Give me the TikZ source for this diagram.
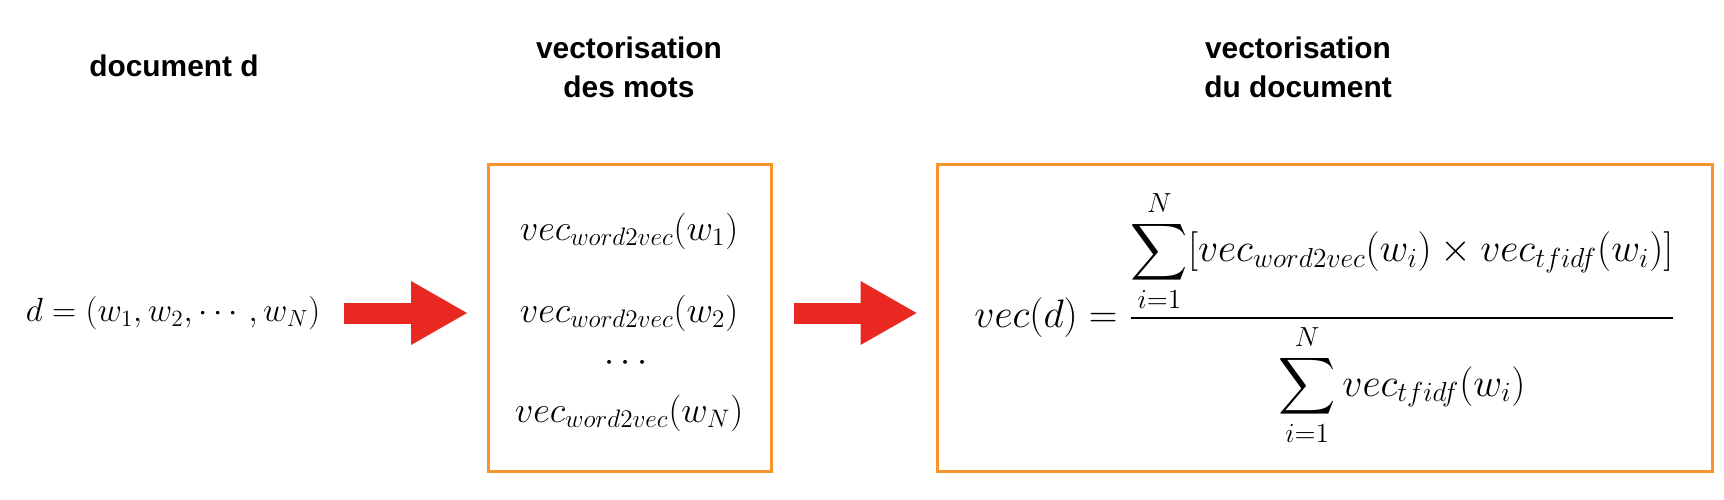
\documentclass[tikz,border=0pt]{standalone}
\usepackage{amsmath}
\usepackage{graphicx}
\usepackage{fontspec}
\newfontfamily\labelfont{Liberation Sans}
\usetikzlibrary{arrows.meta, positioning}
\definecolor{boxorange}{RGB}{247,148,44}
\definecolor{arrowred}{RGB}{233,41,33}

\begin{document}
\begin{tikzpicture}[x=0.02cm, y=-0.02cm,
  title/.style={font=\labelfont\bfseries\fontsize{17}{22}\selectfont, align=center},
  formula/.style={font=\fontsize{20}{24}\selectfont, inner sep=0pt},
  frame/.style={draw=boxorange, line width=1.7pt, inner sep=0pt},
  bigarrow/.style={draw=arrowred, line width=0.42cm, -{Triangle[length=1.12cm, width=1.28cm, line width=0pt, fill=arrowred]}}
]
  \useasboundingbox (0,0) rectangle (1724,500);

  % titles
  \node[title] (doctitle) at (174,66) {document d};
  \node[title] (wordtitle) at (629,67) {vectorisation\\des mots};
  \node[title] (vectitle) at (1298,67) {vectorisation\\du document};

  % document
  \node[formula] (dmath) at (173,313) {\scalebox{0.92}{$d=(w_1,w_2,\cdots,w_N)$}};

  % word vectors
  \node[frame, minimum width=5.66cm, minimum height=6.14cm] (w2vbox) at (630,318) {};
  \node[formula] (wone) at (629,231) {$vec_{word2vec}(w_1)$};
  \node[formula] (wtwo) at (629,313) {$vec_{word2vec}(w_2)$};
  \node[formula] (wdots) at (629,363) {$\cdots$};
  \node[formula] (wlast) at (629,413) {$vec_{word2vec}(w_N)$};

  % document vector
  \node[frame, formula, minimum width=15.52cm, minimum height=6.14cm] (docbox) at (1325,318)
    {\scalebox{1.09}{$\displaystyle vec(d)=\frac{\displaystyle\sum_{i=1}^{N}[vec_{word2vec}(w_i)\times vec_{tfidf}(w_i)]}{\displaystyle\sum_{i=1}^{N}vec_{tfidf}(w_i)}$}};

  \draw[bigarrow, shorten <=0.48cm, shorten >=0.4cm] (dmath.east) -- (dmath.east -| w2vbox.west);
  \draw[bigarrow, shorten <=0.42cm, shorten >=0.38cm] (w2vbox.east |- dmath.east) -- (docbox.west |- dmath.east);
\end{tikzpicture}
\end{document}
